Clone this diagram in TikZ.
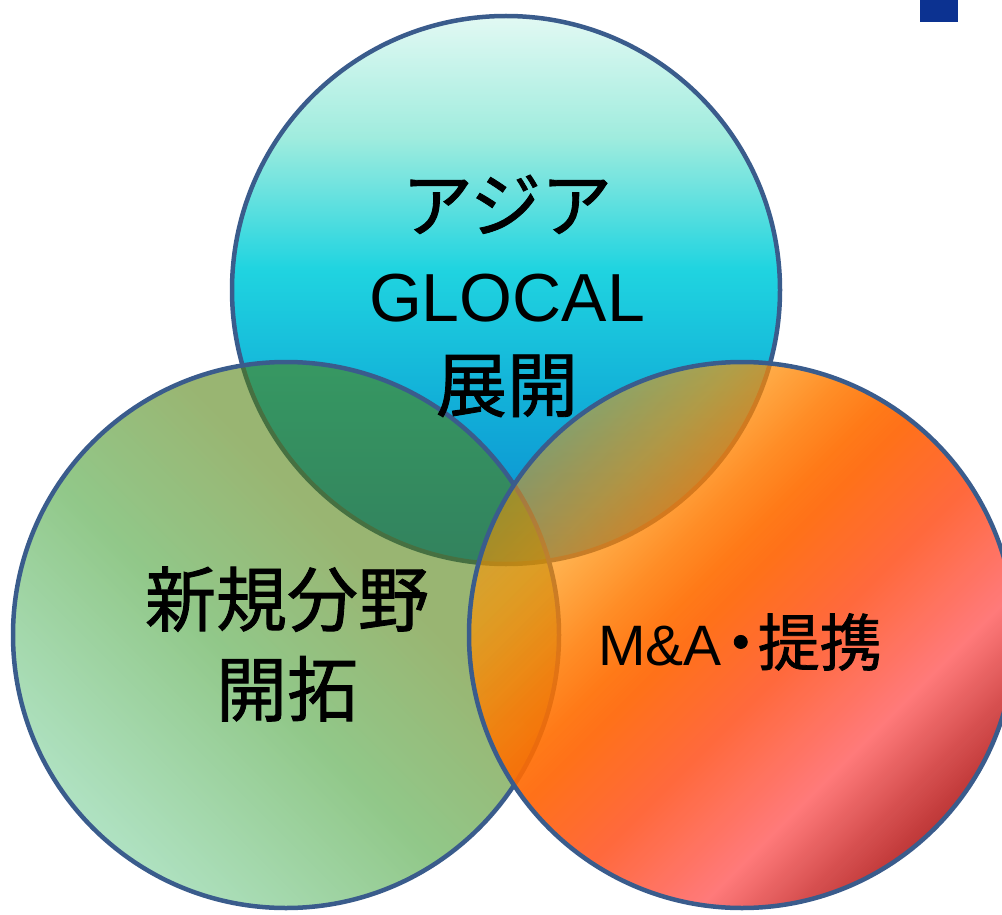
\documentclass[tikz,border=0pt]{standalone}
\usepackage{fontspec}
\setmainfont{Liberation Sans}
\newfontfamily\jp{Noto Sans CJK JP}[FakeBold=1.2]
\usetikzlibrary{fadings}

\definecolor{rimblue}{RGB}{58,92,140}
\definecolor{cornerblue}{RGB}{12,50,145}
% asia circle, bottom to top
\definecolor{asiaE}{RGB}{10,134,208}
\definecolor{asiaD}{RGB}{18,176,216}
\definecolor{asiaC}{RGB}{32,212,224}
\definecolor{asiaB}{RGB}{160,236,222}
\definecolor{asiaA}{RGB}{226,249,243}
% new field circle, bottom-left to top-right
\definecolor{fieldA}{RGB}{118,205,150}
\definecolor{fieldB}{RGB}{66,160,52}
\definecolor{fieldC}{RGB}{80,128,12}
% M&A circle, top-left to bottom-right
\definecolor{maA}{RGB}{255,150,0}
\definecolor{maB}{RGB}{255,146,0}
\definecolor{maC}{RGB}{255,108,0}
\definecolor{maD}{RGB}{255,97,50}
\definecolor{maE}{RGB}{255,115,115}
\definecolor{maF}{RGB}{213,71,71}
\definecolor{maG}{RGB}{187,45,45}

\pgfdeclareverticalshading{asiashade}{100bp}{color(0bp)=(asiaE); color(25bp)=(asiaE);
  color(40bp)=(asiaD); color(52bp)=(asiaC); color(64bp)=(asiaB); color(75bp)=(asiaA); color(100bp)=(asiaA)}
\pgfdeclarehorizontalshading{fieldshade}{100bp}{color(0bp)=(fieldA); color(25bp)=(fieldA);
  color(45bp)=(fieldB); color(60bp)=(fieldC); color(100bp)=(fieldC)}
\pgfdeclarehorizontalshading{mashade}{100bp}{color(0bp)=(maA); color(25bp)=(maA);
  color(32bp)=(maB); color(44bp)=(maC); color(55bp)=(maD); color(65bp)=(maE);
  color(71bp)=(maF); color(75bp)=(maG); color(100bp)=(maG)}
\pgfdeclarehorizontalshading{mafadeshade}{100bp}{color(0bp)=(transparent!50); color(25bp)=(transparent!50);
  color(40bp)=(transparent!15); color(47bp)=(transparent!5); color(100bp)=(transparent!5)}
\pgfdeclarefading{mafade}{\pgfuseshading{mafadeshade}}

\newcommand\jpbig{\jp\fontsize{71}{90}\selectfont}

\begin{document}
\begin{tikzpicture}[x=1pt,y=-1pt,
  rim/.style={draw=rimblue,line width=4.5pt},
  vennlabel/.style={align=center,text=black,inner sep=0pt}]
  \useasboundingbox (0,0) rectangle (1002,915);
  \fill[cornerblue] (920,0) rectangle (958,22);
  % asia
  \shadedraw[rim,shading=asiashade] (506,290) circle[radius=274pt];
  % new field
  \shadedraw[rim,shading=fieldshade,shading angle=45,fill opacity=0.58] (286,635) circle[radius=273pt];
  % M&A
  \shade[shading=mashade,shading angle=-45,path fading=mafade,fading angle=-45] (742,635) circle[radius=273pt];
  \draw[rim] (742,635) circle[radius=273pt];
  %\draw (0,0) -- (1002,915);

  \node[vennlabel,font=\fontsize{68}{90}\selectfont] (asia) at (507,296) {{\jpbig アジア}\\GLOCAL\\{\jpbig 展開}};
  \node[vennlabel,font=\jpbig] (field) at (287,644) {新規分野\\開拓};
  \node[vennlabel,font=\fontsize{57}{70}\selectfont] (mapart) at (740,642)
    {M\&A\kern-12pt{\jp\fontsize{62}{70}\selectfont ・\kern-14pt 提携}};
\end{tikzpicture}
\end{document}
